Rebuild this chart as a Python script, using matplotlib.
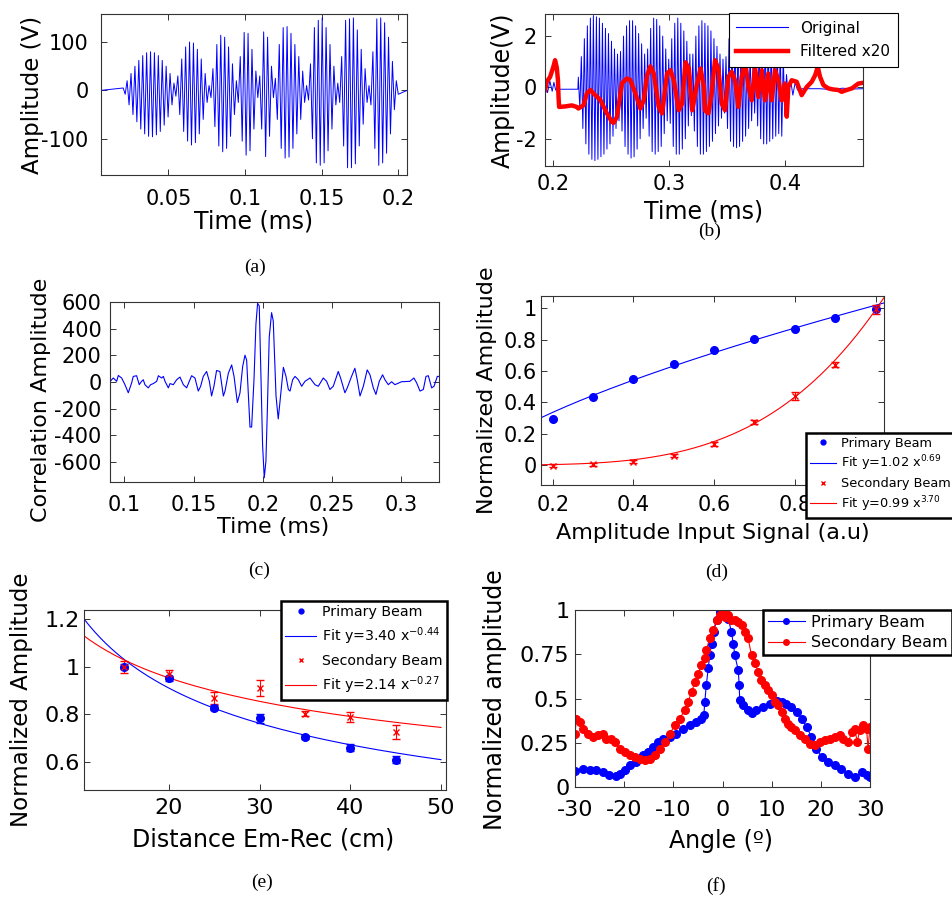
import numpy as np
import matplotlib
matplotlib.use("Agg")
import matplotlib.pyplot as plt
from matplotlib.ticker import FormatStrFormatter
from matplotlib.lines import Line2D

W, H = 953, 897
BLUE = "#0000ff"
RED = "#ff0000"

# ── (a) emitted signal: half-cycle peaks (V), evenly spaced in time ──────────
A_T_ON, A_T_OFF = 0.0205, 0.200
A_PEAKS = [
    5, -8, 20, -30, 35, -50, 50, -65, 62, -80, 72, -90, 78, -95, 80, -96, 78,
    -92, 72, -85, 62, -72, 50, -55, 35, -30, 15,
    -12, 30, -50, 65, -85, 90, -105, 100, -113, 98, -108, 85, -90, 65, -60,
    35, -25, 10,
    -15, 45, -75, 95, -115, 114, -127, 110, -120, 90, -95, 55, -50, 20,
    -25, 70, -105, 120, -134, 118, -125, 85, -80, 40, -15,
    30, -80, 121, -137, 110, -95, 50, -15,
    25, -60, 95, -120, 130, -140, 132, -138, 118, -120, 95, -90, 70, -60, 40,
    -25, 10,
    -20, 55, -100, 130, -150, 145, -155, 150, -150, 130, -125, 95, -80, 50,
    -30, 15,
    -25, 70, -115, 145, -160, 148, -160, 150, -152, 125, -115, 85, -70, 45,
    -25, 10,
    -30, 80, -120, 148, -155, 150, -150, 140, -130, 110, -90, 60, -40, 20, -8,
]

# ── (b) original (half-cycle peaks) and filtered x20 ─────────────────────────
B_T_ON, B_T_OFF = 0.2216, 0.400
B_PEAKS = [
    0.4, -0.8, 1.2, -1.6, 1.9, -2.2, 2.4, -2.6, 2.7, -2.8, 2.8, -2.85, 2.75,
    -2.8, 2.7, -2.7, 2.5, -2.6, 2.3, -2.4, 2.1, -2.2, 1.8, -1.9, 1.5, -1.6,
    1.3, -1.3,
    1.4, -1.7, 2.0, -2.3, 2.4, -2.6, 2.6, -2.75, 2.6, -2.7, 2.4, -2.4, 2.1,
    -2.0, 1.7, -1.6, 1.3, -1.2,
    1.5, -1.9, 2.3, -2.5, 2.7, -2.6, 2.65, -2.5, 2.4, -2.3, 2.0, -1.8, 1.5,
    -1.3, 1.1,
    -1.4, 1.9, -2.3, 2.5, -2.6, 2.7, -2.6, 2.5, -2.4, 2.2, -2.0, 1.8, -1.5,
    1.3, -1.1,
    1.3, -1.7, 2.0, -2.3, 2.4, -2.6, 2.6, -2.6, 2.5, -2.5, 2.4, -2.3, 2.2,
    -2.1, 1.9, -1.8, 1.6, -1.5, 1.3, -1.2, 1.1, -1.0,
    1.2, -1.6, 1.9, -2.1, 2.3, -2.3, 2.4, -2.35, 2.3, -2.3, 2.2, -2.1, 2.0,
    -1.9, 1.7, -1.6, 1.4, -1.3, 1.1, -1.0,
    1.2, -1.5, 1.8, -2.0, 2.1, -2.2, 2.2, -2.2, 2.1, -2.1, 2.0, -2.0, 1.9,
    -1.9, 1.8, -1.8, 1.6, -1.9, 1.2, -1.0,
]
B_PRE_T = [0.1928, 0.195, 0.197, 0.199, 0.2005, 0.202, 0.204, 0.2212]
B_PRE_V = [0.1, -0.2, 0.25, -0.15, 0.2, -0.1, -0.07, -0.07]
B_POST_T = [0.4015, 0.403, 0.405, 0.407, 0.409, 0.411, 0.415, 0.43, 0.44,
            0.45, 0.46, 0.4676]
B_POST_V = [0.5, -0.4, 0.3, -0.3, 0.2, -0.1, -0.05, -0.05, -0.08, -0.03,
            -0.06, -0.05]
B_FILT_T = [0.1928, 0.1943, 0.1972, 0.2, 0.2015, 0.203, 0.204, 0.2045, 0.205,
            0.2102, 0.216, 0.2203, 0.2216, 0.226, 0.229, 0.232, 0.2362,
            0.2405, 0.2463, 0.2506, 0.252, 0.255, 0.2593, 0.2636, 0.2665,
            0.2709, 0.2752, 0.2781, 0.281, 0.2839, 0.2868, 0.2911, 0.294,
            0.2983, 0.3012, 0.3041, 0.3084, 0.3113, 0.3142, 0.3171, 0.32,
            0.3243, 0.3272, 0.3301, 0.331, 0.334, 0.3368, 0.3397, 0.3426,
            0.3455, 0.3484, 0.3513, 0.3541, 0.357, 0.3599, 0.3628, 0.3657,
            0.3685, 0.3714, 0.3743, 0.3772, 0.3801, 0.3829, 0.3858, 0.3887,
            0.3916, 0.3945, 0.3973, 0.4002, 0.4017, 0.4031, 0.406, 0.4103,
            0.4146, 0.419, 0.4233, 0.4262, 0.4285, 0.4305, 0.4334, 0.4377,
            0.442, 0.4463, 0.4492, 0.4535, 0.4579, 0.4636, 0.4676]
B_FILT_V = [-0.1, 0.22, 0.41, 0.8, 1.06, 0.77, 0.28, -0.37, -0.76, -0.74,
            -0.7, -0.76, -0.82, -0.7, -0.23, -0.1, -0.3, -0.48, -1.01, -1.34,
            -1.38, -1.15, 0.16, 0.35, 0.29, -0.23, -0.82, -0.5, 0.47, 0.82,
            0.54, -0.76, -1.01, 0.54, 0.67, 0.29, -0.89, -0.63, 0.98, 0.74,
            -0.89, 0.15, 0.74, 0.02, -0.89, -1.01, -0.23, 1.06, 0.74, -0.63,
            -0.89, 0.41, 0.61, 0.28, -0.76, 0.41, 1.06, 0.02, -0.5, 0.8,
            -0.37, 0.67, -0.5, 0.54, -0.5, 0.67, 0.28, -0.5, 0.15, -1.14,
            0.02, 0.28, 0.22, -0.3, 0.02, 0.22, 0.47, 0.8, 0.41, 0.09, -0.04,
            -0.08, -0.1, -0.17, -0.1, -0.04, 0.15, 0.18]

# ── (c) correlation ──────────────────────────────────────────────────────────
C_T = [0.0897, 0.0909, 0.0921, 0.0945, 0.0957, 0.0981, 0.1005, 0.1029,
       0.1053, 0.1065, 0.1089, 0.1108, 0.1125, 0.1137, 0.1149, 0.1173,
       0.1190, 0.1209, 0.1234, 0.1246, 0.1270, 0.1282, 0.1294, 0.1318,
       0.1330, 0.1354, 0.1378, 0.1402, 0.1426, 0.1450, 0.1469, 0.1486,
       0.1510, 0.1534, 0.1551, 0.1570, 0.1594, 0.1614, 0.1630, 0.1647,
       0.1666, 0.1690, 0.1715, 0.1727, 0.1751, 0.1775, 0.1792, 0.1816,
       0.1835, 0.1854, 0.1871, 0.1883, 0.1907, 0.1919, 0.1936, 0.1950,
       0.1962, 0.1974, 0.1984, 0.1998, 0.2010, 0.2022, 0.2032, 0.2046,
       0.2063, 0.2075, 0.2095, 0.2111, 0.2123, 0.2148, 0.2167, 0.2184,
       0.2196, 0.2215, 0.2232, 0.2256, 0.2280, 0.2304, 0.2340, 0.2376,
       0.2400, 0.2436, 0.2460, 0.2484, 0.2508, 0.2544, 0.2561, 0.2592,
       0.2609, 0.2640, 0.2664, 0.2681, 0.2701, 0.2725, 0.2753, 0.2773,
       0.2797, 0.2816, 0.2840, 0.2864, 0.2881, 0.2905, 0.2929, 0.2953,
       0.3001, 0.3061, 0.3090, 0.3110, 0.3134, 0.3158, 0.3177, 0.3194,
       0.3218, 0.3235, 0.3259, 0.3278]
C_V = [2, 17, 30, 5, 49, 30, -20, -81, -7, 42, 47, -20, 5, 17, -20, -44, -20,
       -12, 5, 47, 30, 42, 5, -44, -12, -20, 17, 37, -20, -44, 5, 47, 30, -68,
       -32, 42, 79, 5, -105, -32, 86, 79, -105, -68, 66, 128, 42, -154, -81,
       115, 201, 164, -338, -338, 17, 434, 590, 570, 140, -473, -718, -595,
       -228, 336, 520, 458, -105, -277, -154, 110, 42, -56, -68, 17, 42, 17,
       -32, 5, 30, -20, -32, 30, 5, -56, -32, 79, 30, -81, -44, 42, 103, 17,
       -105, -32, 91, 54, -44, -93, 5, 54, 17, -20, 2, -20, 2, 5, 30, -7, -68,
       -56, 42, 47, -44, -32, 42, 42]

# ── (d) linearity ────────────────────────────────────────────────────────────
D_X = [0.2, 0.3, 0.4, 0.5, 0.6, 0.7, 0.8, 0.9, 1.0]
D_PRIMARY = [0.294, 0.432, 0.547, 0.645, 0.734, 0.806, 0.870, 0.936, 0.994]
D_SECONDARY = [-0.006, 0.004, 0.021, 0.06, 0.134, 0.272, 0.443, 0.64, 0.994]
D_SECONDARY_ERR = [0.01, 0.008, 0.01, 0.01, 0.012, 0.012, 0.025, 0.015, 0.03]
D_FIT_PRIMARY = (1.02, 0.69)
D_FIT_SECONDARY = (0.99, 3.70)

# ── (e) distance ─────────────────────────────────────────────────────────────
E_X = [15, 20, 25, 30, 35, 40, 45]
E_PRIMARY = [1.0, 0.951, 0.827, 0.782, 0.704, 0.658, 0.608]
E_PRIMARY_ERR = [0.01, 0.01, 0.01, 0.02, 0.008, 0.015, 0.015]
E_SECONDARY = [1.0, 0.968, 0.869, 0.911, 0.803, 0.789, 0.724]
E_SECONDARY_ERR = [0.025, 0.02, 0.025, 0.035, 0.01, 0.02, 0.03]
E_FIT_PRIMARY = (3.40, -0.44)
E_FIT_SECONDARY = (2.14, -0.27)

# ── (f) beam pattern ─────────────────────────────────────────────────────────
F_ANG_P = [-30.0, -28.4, -27.0, -25.7, -24.3, -23.0, -21.6, -20.9, -19.9,
           -18.9, -17.5, -16.1, -15.1, -14.1, -13.1, -12.1, -10.7, -9.4, -8.0,
           -6.7, -5.3, -4.3, -3.8, -3.6, -3.3, -2.9, -2.6, -2.2, -1.8, -1.2,
           -0.5, 0.0, 0.5, 1.2, 1.8, 2.2, 2.5, 3.2, 3.4, 3.5, 4.2, 5.2, 5.9,
           6.9, 8.3, 9.6, 11.0, 12.0, 13.0, 14.0, 15.1, 16.1, 17.1, 18.1,
           19.1, 20.2, 21.5, 22.9, 24.2, 25.6, 26.9, 28.3, 29.3, 30.0]
F_VAL_P = [0.09, 0.10, 0.094, 0.094, 0.085, 0.066, 0.062, 0.075, 0.094, 0.122,
           0.141, 0.179, 0.198, 0.226, 0.254, 0.273, 0.283, 0.302, 0.33,
           0.349, 0.368, 0.386, 0.405, 0.481, 0.575, 0.67, 0.745, 0.81, 0.877,
           0.943, 0.99, 1.0, 0.99, 0.95, 0.877, 0.81, 0.745, 0.66, 0.575,
           0.49, 0.462, 0.434, 0.42, 0.434, 0.452, 0.471, 0.485, 0.481, 0.471,
           0.452, 0.424, 0.386, 0.339, 0.283, 0.217, 0.17, 0.141, 0.122,
           0.103, 0.075, 0.056, 0.085, 0.066, 0.056]
F_ANG_S = [-30.0, -29.7, -29.0, -28.4, -27.3, -26.3, -25.3, -24.3, -23.6,
           -22.6, -21.9, -20.9, -19.9, -18.9, -17.8, -16.8, -15.8, -14.8,
           -13.8, -12.8, -11.7, -10.7, -9.7, -8.7, -7.7, -7.0, -6.3, -5.6,
           -5.0, -4.3, -3.6, -3.3, -2.6, -1.9, -1.2, -0.5, 0.0, 0.5, 1.2, 1.8,
           2.5, 3.2, 3.9, 4.5, 5.2, 5.9, 6.6, 7.3, 7.9, 8.6, 9.3, 10.0, 10.7,
           11.3, 12.0, 12.7, 13.4, 14.0, 14.7, 15.7, 16.8, 17.8, 18.8, 19.8,
           20.8, 21.9, 22.9, 23.9, 24.6, 25.6, 26.3, 26.9, 27.4, 27.9, 28.6,
           29.3, 29.6, 30.0]
F_VAL_S = [0.302, 0.386, 0.368, 0.33, 0.302, 0.283, 0.292, 0.302, 0.273,
           0.273, 0.254, 0.217, 0.198, 0.179, 0.17, 0.16, 0.151, 0.16, 0.179,
           0.217, 0.254, 0.302, 0.349, 0.386, 0.434, 0.481, 0.537, 0.594,
           0.641, 0.688, 0.726, 0.773, 0.84, 0.886, 0.943, 0.971, 0.99, 0.962,
           0.971, 0.943, 0.943, 0.934, 0.915, 0.877, 0.84, 0.745, 0.698,
           0.651, 0.603, 0.575, 0.547, 0.518, 0.481, 0.462, 0.424, 0.386,
           0.358, 0.339, 0.32, 0.292, 0.273, 0.245, 0.235, 0.254, 0.264,
           0.273, 0.283, 0.292, 0.273, 0.254, 0.311, 0.33, 0.254, 0.32, 0.349,
           0.33, 0.217, 0.339]


def rect(l, r, t, b):
    return [l / W, 1 - b / H, (r - l) / W, (b - t) / H]


def fxy(x, y):
    return x / W, 1 - y / H


fig = plt.figure(figsize=(W / 100, H / 100), dpi=100)
fig.patch.set_facecolor("white")


def sax(box, fs=15, xpad=5, ypad=5):
    ax = fig.add_axes(rect(*box))
    ax.tick_params(direction="in", length=4, width=0.7, top=True, right=True,
                   labelsize=fs, color="#333333")
    ax.tick_params(axis="x", pad=xpad)
    ax.tick_params(axis="y", pad=ypad)
    for s in ax.spines.values():
        s.set_color("#333333"); s.set_linewidth(0.8)
    ax.xaxis.set_major_formatter(FormatStrFormatter("%g"))
    ax.yaxis.set_major_formatter(FormatStrFormatter("%g"))
    return ax


def label(x, y, s, fs=16.5, rot=0):
    fig.text(*fxy(x, y), s, fontsize=fs, rotation=rot, ha="center", va="center")


def caption(x, y, s):
    fig.text(*fxy(x, y), s, fontsize=14, family="Liberation Serif",
             ha="center", va="center")


def box_legend(ax, handles, labels, corner, loc, fs, lw, **kw):
    leg = ax.legend(handles, labels, loc=loc, bbox_to_anchor=fxy(*corner),
                    bbox_transform=fig.transFigure, borderaxespad=0,
                    fancybox=False, fontsize=fs, framealpha=1, **kw)
    leg.get_frame().set_edgecolor("black")
    leg.get_frame().set_linewidth(lw)
    leg.set_zorder(10)
    return leg


# ── Panel (a) ────────────────────────────────────────────────────────────────
ax = sax((101, 407, 14, 175), xpad=10, ypad=9)
ta = np.linspace(A_T_ON, A_T_OFF, len(A_PEAKS))
ax.plot([0.006] + list(ta) + [0.2057], [0] + A_PEAKS + [0], color=BLUE, lw=0.7)
ax.set_xlim(0.006, 0.2057); ax.set_ylim(-175, 158)
ax.set_xticks([0.05, 0.1, 0.15, 0.2]); ax.set_yticks([-100, 0, 100])
label(254, 221, "Time (ms)", 17)
label(33, 95, "Amplitude (V)", 16.5, 90)
caption(255, 267, "(a)")

# ── Panel (b) ────────────────────────────────────────────────────────────────
ax = sax((545, 863, 14, 166), xpad=6, ypad=6)
tb = np.linspace(B_T_ON, B_T_OFF, len(B_PEAKS))
ax.plot(B_PRE_T + list(tb) + B_POST_T, B_PRE_V + B_PEAKS + B_POST_V,
        color=BLUE, lw=0.7)
ax.plot(B_FILT_T, B_FILT_V, color=RED, lw=3.2)
ax.set_xlim(0.1928, 0.4676); ax.set_ylim(-3.06, 2.86)
ax.set_xticks([0.2, 0.3, 0.4]); ax.set_yticks([-2, 0, 2])
box_legend(ax, [Line2D([], [], color=BLUE, lw=0.8),
                Line2D([], [], color=RED, lw=3.2)],
           ["Original", "Filtered x20"], (898, 13), "upper right", 11, 0.8,
           handlelength=3.4, borderpad=0.5, labelspacing=0.55)
label(704, 212, "Time (ms)", 17)
label(503, 90, "Amplitude(V)", 17, 90)
caption(710, 231, "(b)")

# ── Panel (c) ────────────────────────────────────────────────────────────────
ax = sax((110, 439, 302, 482), xpad=9, ypad=6)
ax.plot(C_T, C_V, color=BLUE, lw=0.8)
ax.set_xlim(0.0897, 0.3271); ax.set_ylim(-750, 595)
ax.set_xticks([0.1, 0.15, 0.2, 0.25, 0.3])
ax.set_yticks([-600, -400, -200, 0, 200, 400, 600])
label(273, 527, "Time (ms)", 16)
label(41, 400, "Correlation Amplitude", 16, 90)
caption(259, 570, "(c)")

# ── Panel (d) ────────────────────────────────────────────────────────────────
ax = sax((541, 884, 296, 485), xpad=7, ypad=3)
xf = np.linspace(0.171, 1.021, 200)
ax.plot(xf, D_FIT_PRIMARY[0] * xf ** D_FIT_PRIMARY[1], color=BLUE, lw=0.8)
ax.plot(xf, D_FIT_SECONDARY[0] * xf ** D_FIT_SECONDARY[1], color=RED, lw=0.8)
ax.plot(D_X, D_PRIMARY, "o", color=BLUE, ms=5.5)
ax.errorbar(D_X, D_SECONDARY, yerr=D_SECONDARY_ERR, fmt="x", color=RED,
            ms=4.5, mew=1, elinewidth=0.8, capsize=3)
ax.set_xlim(0.171, 1.021); ax.set_ylim(-0.128, 1.079)
ax.set_xticks([0.2, 0.4, 0.6, 0.8, 1.0])
ax.set_xticklabels(["0.2", "0.4", "0.6", "0.8", ""])
ax.set_yticks([0, 0.2, 0.4, 0.6, 0.8, 1.0])
box_legend(ax, [Line2D([], [], ls="none", marker=".", color=BLUE, ms=7),
                Line2D([], [], color=BLUE, lw=0.8),
                Line2D([], [], ls="none", marker="x", color=RED, ms=3.5),
                Line2D([], [], color=RED, lw=0.8)],
           ["Primary Beam", r"Fit y=1.02 x$^{0.69}$", "Secondary Beam",
            r"Fit y=0.99 x$^{3.70}$"], (806, 433), "upper left", 9.3, 1.8,
           handlelength=2.0, borderpad=0.3, labelspacing=0.3,
           handletextpad=0.4)
label(713, 533, "Amplitude Input Signal (a.u)", 16)
label(487, 390, "Normalized Amplitude", 16, 90)
caption(717, 572, "(d)")

# ── Panel (e) ────────────────────────────────────────────────────────────────
ax = sax((84, 446, 610, 790), fs=16, xpad=6, ypad=3)
xe = np.linspace(10.62, 50.0, 200)
ax.plot(xe, E_FIT_PRIMARY[0] * xe ** E_FIT_PRIMARY[1], color=BLUE, lw=0.8)
ax.plot(xe, E_FIT_SECONDARY[0] * xe ** E_FIT_SECONDARY[1], color=RED, lw=0.8)
ax.errorbar(E_X, E_PRIMARY, yerr=E_PRIMARY_ERR, fmt="o", color=BLUE, ms=5.5,
            elinewidth=0.8, capsize=3)
ax.errorbar(E_X, E_SECONDARY, yerr=E_SECONDARY_ERR, fmt="x", color=RED,
            ms=5, mew=1, elinewidth=0.8, capsize=3)
ax.set_xlim(10.62, 50.55); ax.set_ylim(0.48, 1.24)
ax.set_xticks([20, 30, 40, 50]); ax.set_yticks([0.6, 0.8, 1.0, 1.2])
box_legend(ax, [Line2D([], [], ls="none", marker=".", color=BLUE, ms=7),
                Line2D([], [], color=BLUE, lw=0.8),
                Line2D([], [], ls="none", marker="x", color=RED, ms=3.5),
                Line2D([], [], color=RED, lw=0.8)],
           ["Primary Beam", r"Fit y=3.40 x$^{-0.44}$", "Secondary Beam",
            r"Fit y=2.14 x$^{-0.27}$"], (281, 601), "upper left", 10.2, 1.8,
           handlelength=2.2, borderpad=0.3, labelspacing=0.45,
           handletextpad=0.4)
label(263, 839, "Distance Em-Rec (cm)", 17)
label(22, 700, "Normalized Amplitude", 16.5, 90)
caption(262, 882, "(e)")

# ── Panel (f) ────────────────────────────────────────────────────────────────
ax = sax((575, 870, 610, 787), fs=16, xpad=9, ypad=4)
ax.plot(F_ANG_P, F_VAL_P, color=BLUE, lw=0.8, marker="o", ms=5.5)
ax.plot(F_ANG_S, F_VAL_S, color=RED, lw=0.8, marker="o", ms=5.5)
ax.set_xlim(-30, 30); ax.set_ylim(0, 1)
ax.set_xticks(range(-30, 31, 10)); ax.set_yticks([0, 0.25, 0.5, 0.75, 1])
box_legend(ax, [Line2D([], [], color=BLUE, lw=0.8, marker="o", ms=4),
                Line2D([], [], color=RED, lw=0.8, marker="o", ms=4)],
           ["Primary Beam", "Secondary Beam"], (763, 610), "upper left", 11.5,
           1.8, handlelength=2.3, borderpad=0.3, labelspacing=0.35,
           handletextpad=0.4)
label(721, 841, "Angle (º)", 17)
label(495, 700, "Normalized amplitude", 17, 90)
caption(716, 886, "(f)")

fig.savefig("out.png", dpi=100, facecolor="white")
